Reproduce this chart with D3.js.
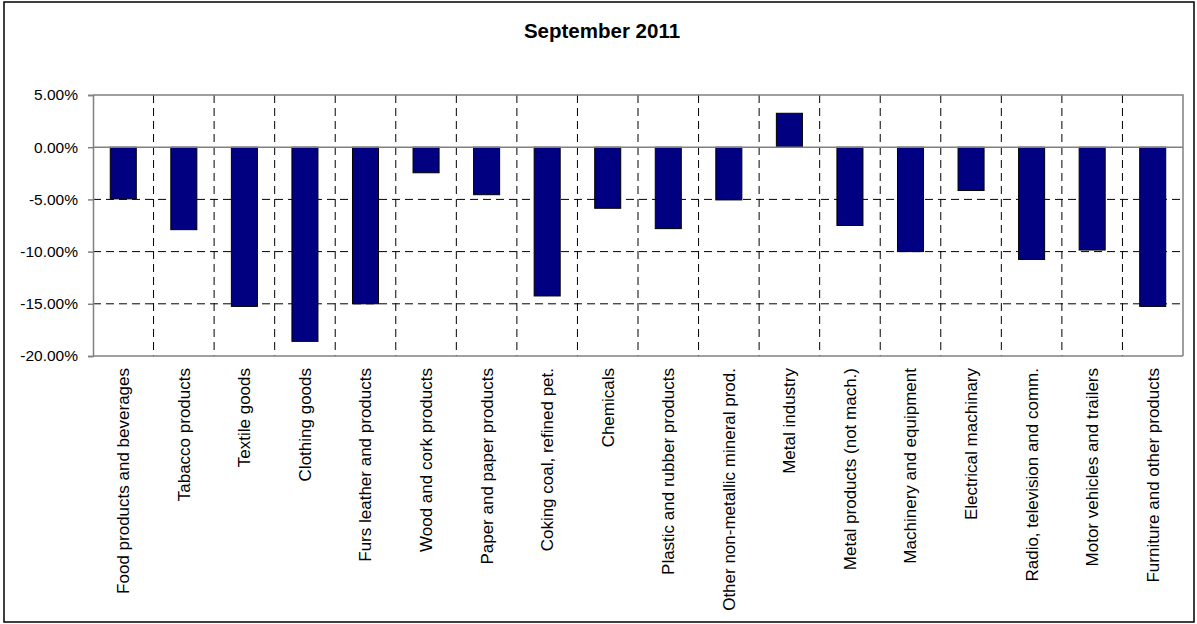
<!DOCTYPE html>
<html>
<head>
<meta charset="utf-8">
<script src="https://cdn.jsdelivr.net/npm/d3@7"></script>
<style>
  body { margin: 0; background: #fff; }
  svg { display: block; font-family: "Liberation Sans", Arial, sans-serif; }
</style>
</head>
<body>
<svg id="chart" width="1197" height="624"></svg>
<script>
// data
var categories = [
  "Food products and beverages", "Tabacco products", "Textile goods", "Clothing goods",
  "Furs leather and products", "Wood and cork products", "Paper and paper products",
  "Coking coal, refined pet.", "Chemicals", "Plastic and rubber products",
  "Other non-metallic mineral prod.", "Metal industry", "Metal products (not mach.)",
  "Machinery and equipment", "Electrical machinary", "Radio, television and comm.",
  "Motor vehicles and trailers", "Furniture and other products"
];
var values = [-4.95, -7.9, -15.25, -18.6, -15.0, -2.45, -4.55, -14.25, -5.85, -7.8,
  -5.05, 3.25, -7.5, -10.0, -4.15, -10.75, -9.85, -15.25];
var yTicks = [5, 0, -5, -10, -15, -20];
var title = "September 2011";

var svg = d3.select("#chart");

// outer frame
svg.append("rect")
  .attr("x", 4).attr("y", 2)
  .attr("width", 1190).attr("height", 620)
  .attr("fill", "#fff")
  .attr("stroke", "#000")
  .attr("stroke-width", 1.5);

svg.append("text")
  .attr("x", 602).attr("y", 38)
  .attr("text-anchor", "middle")
  .style("font-size", "20.5px")
  .style("font-weight", "bold")
  .text(title);

var plotLeft = 93, plotRight = 1183, plotTop = 95, plotBottom = 356;

var x = d3.scaleBand()
  .domain(categories)
  .range([plotLeft, plotRight])
  .paddingInner(0.57)
  .paddingOuter(0.285);

var y = d3.scaleLinear()
  .domain([-20, 5])
  .range([plotBottom, plotTop]);

var step = x.step();

// horizontal dashed gridlines
svg.append("g")
  .selectAll("line")
  .data(yTicks.filter(function(d) { return d < 0 && d > -20; }))
  .enter()
  .append("line")
  .attr("x1", plotLeft).attr("x2", plotRight)
  .attr("y1", function(d) { return y(d); })
  .attr("y2", function(d) { return y(d); })
  .attr("stroke", "#000")
  .attr("stroke-dasharray", "8,5");

// vertical dashed gridlines between categories
svg.append("g")
  .selectAll("line")
  .data(categories.slice(1))
  .enter()
  .append("line")
  .attr("x1", function(d) { return x(d) - step * x.paddingInner() / 2; })
  .attr("x2", function(d) { return x(d) - step * x.paddingInner() / 2; })
  .attr("y1", plotTop).attr("y2", plotBottom)
  .attr("stroke", "#000")
  .attr("stroke-dasharray", "8,5");

// plot area border (top, right) in grey
svg.append("path")
  .attr("d", "M" + plotLeft + "," + plotTop + "H" + plotRight + "V" + plotBottom)
  .attr("fill", "none")
  .attr("stroke", "#808080")
  .attr("stroke-width", 1.5);

// bars
svg.append("g")
  .selectAll("rect")
  .data(values)
  .enter()
  .append("rect")
  .attr("x", function(d, i) { return x(categories[i]); })
  .attr("width", x.bandwidth())
  .attr("y", function(d) { return y(Math.max(0, d)); })
  .attr("height", function(d) { return Math.abs(y(d) - y(0)); })
  .attr("fill", "#000080")
  .attr("stroke", "#000")
  .attr("stroke-width", 1);

// zero line
svg.append("line")
  .attr("x1", plotLeft).attr("x2", plotRight)
  .attr("y1", y(0)).attr("y2", y(0))
  .attr("stroke", "#808080")
  .attr("stroke-width", 1.5);

// y axis
var yAxis = d3.axisLeft(y)
  .tickValues(yTicks)
  .tickSize(5)
  .tickPadding(10)
  .tickFormat(function(d) { return d.toFixed(2) + "%"; });

var ga = svg.append("g")
  .attr("transform", "translate(" + plotLeft + ",0)")
  .call(yAxis);
ga.select(".domain").attr("stroke", "#808080").attr("stroke-width", 1.5);
ga.selectAll(".tick line").attr("stroke", "#808080").attr("stroke-width", 1.5);
ga.selectAll("text")
  .attr("fill", "#000")
  .style("font-size", "15.5px")
  .style("font-family", "'Liberation Sans', Arial, sans-serif");

// bottom axis line
svg.append("line")
  .attr("x1", plotLeft).attr("x2", plotRight)
  .attr("y1", plotBottom).attr("y2", plotBottom)
  .attr("stroke", "#808080")
  .attr("stroke-width", 1.5);

// category labels, rotated
svg.append("g")
  .selectAll("text")
  .data(categories)
  .enter()
  .append("text")
  .attr("transform", function(d) {
    return "translate(" + (x(d) + x.bandwidth() / 2) + "," + 368 + ") rotate(-90)";
  })
  .attr("dy", "0.35em")
  .attr("text-anchor", "end")
  .style("font-size", "17px")
  .text(function(d) { return d; });
</script>
</body>
</html>
